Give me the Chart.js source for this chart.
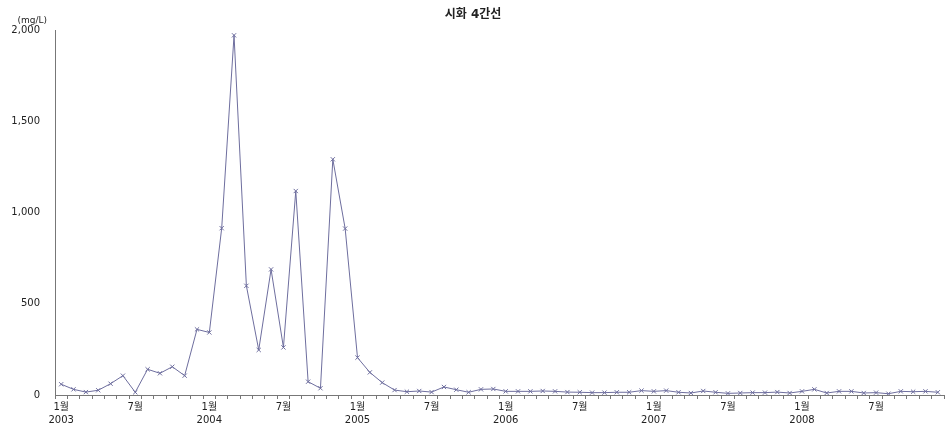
<!DOCTYPE html>
<html>
<head>
<meta charset="utf-8">
<script src="https://cdn.jsdelivr.net/npm/chart.js@4"></script>
<style>
  body { margin: 0; background: #fff; }
  #chart { display: block; }
</style>
</head>
<body>
<canvas id="chart" width="949" height="426"></canvas>
<script>
const chartTitle = "시화 4간선";
const unitLabel = "(mg/L)";
const years = [2003, 2004, 2005, 2006, 2007, 2008];

// monthly values, Jan 2003 .. Dec 2008
const values2003 = [59, 31, 16, 26, 62, 106, 15, 141, 119, 155, 106, 360];
const values2004 = [343, 915, 1973, 599, 247, 689, 261, 1119, 73, 37, 1293, 913];
const values2005 = [205, 124, 68, 27, 18, 22, 16, 44, 29, 15, 31, 33];
const values2006 = [20, 20, 20, 22, 20, 16, 15, 13, 13, 15, 15, 24];
const values2007 = [20, 24, 15, 11, 22, 15, 9, 11, 13, 13, 16, 11];
const values2008 = [20, 31, 11, 20, 20, 11, 13, 7, 20, 18, 20, 15];

const yTicks = [0, 500, 1000, 1500, 2000];

const labels = [];
years.forEach((year) => {
  for (let m = 1; m <= 12; m++) labels.push({ year, month: m });
});
const values = [].concat(values2003, values2004, values2005, values2006, values2007, values2008);

const lineColor = "#6e6e9e";
const fontFamily = "'DejaVu Sans', 'Noto Sans CJK KR', sans-serif";

const unitPlugin = {
  id: "unitLabel",
  afterDraw(chart) {
    const y = chart.scales.y;
    const ctx = chart.ctx;
    ctx.save();
    ctx.font = "9px " + fontFamily;
    ctx.fillStyle = "#222";
    ctx.textAlign = "right";
    ctx.textBaseline = "middle";
    ctx.fillText(unitLabel, y.right - 8, y.top - 10);
    ctx.restore();
  },
};

new Chart(document.getElementById("chart"), {
  type: "line",
  data: {
    labels: labels.map((l) => `${l.year}-${l.month}`),
    datasets: [{
      data: values,
      borderColor: lineColor,
      backgroundColor: lineColor,
      borderWidth: 1,
      pointStyle: "crossRot",
      pointRadius: 3,
      pointBorderWidth: 1,
      pointBorderColor: lineColor,
      tension: 0,
    }],
  },
  plugins: [unitPlugin],
  options: {
    responsive: false,
    animation: false,
    devicePixelRatio: 1,
    layout: { padding: { top: 0, right: 3, bottom: 0, left: 0 } },
    plugins: {
      legend: { display: false },
      tooltip: { enabled: false },
      title: {
        display: true,
        text: chartTitle,
        color: "#222",
        font: { family: fontFamily, size: 12, weight: "bold" },
        padding: { top: 8, bottom: 8 },
      },
    },
    scales: {
      x: {
        type: "category",
        offset: true,
        grid: {
          display: true,
          drawOnChartArea: false,
          drawTicks: true,
          tickLength: 4,
          offset: true,
          color: "#777",
        },
        border: { display: true, color: "#777" },
        afterFit(scale) {
          scale.height = 31;
        },
        ticks: {
          autoSkip: false,
          maxRotation: 0,
          padding: 2,
          color: "#222",
          font: { family: fontFamily, size: 10, lineHeight: 1.3 },
          callback(value, index) {
            const l = labels[index];
            if (l.month === 1) return ["1월", String(l.year)];
            if (l.month === 7) return "7월";
            return "";
          },
        },
      },
      y: {
        min: 0,
        max: 2000,
        grid: { display: false, drawTicks: false },
        border: { display: true, color: "#777" },
        afterBuildTicks(scale) {
          scale.ticks = yTicks.map((v) => ({ value: v }));
        },
        afterFit(scale) {
          scale.width = 55;
        },
        ticks: {
          padding: 15,
          color: "#222",
          font: { family: fontFamily, size: 10 },
          callback: (v) => v.toLocaleString("en-US"),
        },
      },
    },
  },
});
</script>
</body>
</html>
